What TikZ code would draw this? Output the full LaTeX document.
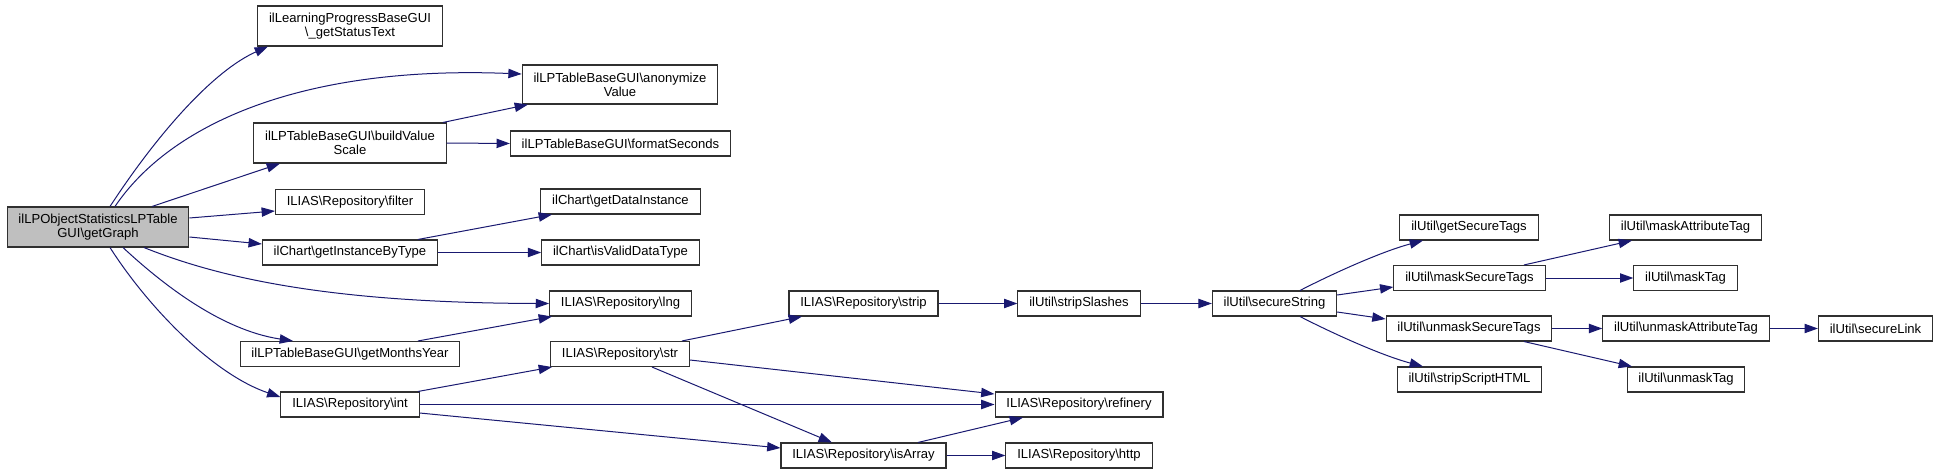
\documentclass[tikz,border=0pt]{standalone}
\usepackage{fontspec}
\setmainfont{Liberation Sans}
\usetikzlibrary{arrows.meta}
\definecolor{edgeblue}{HTML}{191970}
\definecolor{framegray}{HTML}{303030}
\definecolor{rootgray}{HTML}{BFBFBF}

\begin{document}
\begin{tikzpicture}[x=0.75pt,y=-0.75pt,
			fn/.style={draw=framegray,line width=0.8pt,fill=white,font=\fontsize{9.8}{10.5}\selectfont,
				inner xsep=8.5pt,inner ysep=0pt,minimum height=18.75pt,align=center},
			fn2/.style={fn,minimum height=30pt},
			root/.style={fn2,fill=rootgray},
			call/.style={draw=edgeblue,line width=0.75pt,-{Triangle[length=10pt,width=7pt]}}]
			\useasboundingbox (0,0) rectangle (1939,474);
			\node[root] (gg) at (98,227) {ilLPObjectStatisticsLPTable\\GUI\textbackslash{}getGraph};
			\node[fn2] (gst) at (350,26) {ilLearningProgressBaseGUI\\\textbackslash\_getStatusText};
			\node[fn2] (bvs) at (350,143) {ilLPTableBaseGUI\textbackslash{}buildValue\\Scale};
			\node[fn] (flt) at (350,202) {ILIAS\textbackslash{}Repository\textbackslash{}filter};
			\node[fn] (gibt) at (350,252.5) {ilChart\textbackslash{}getInstanceByType};
			\node[fn] (gmy) at (350,354) {ilLPTableBaseGUI\textbackslash{}getMonthsYear};
			\node[fn] (int) at (350,404.5) {ILIAS\textbackslash{}Repository\textbackslash{}int};
			\node[fn2,minimum height=29.25pt] (av) at (620,84.5) {ilLPTableBaseGUI\textbackslash{}anonymize\\Value};
			\node[fn] (fs) at (620.5,143.5) {ilLPTableBaseGUI\textbackslash{}formatSeconds};
			\node[fn] (gdi) at (620.5,201.5) {ilChart\textbackslash{}getDataInstance};
			\node[fn] (ivdt) at (620.5,252.5) {ilChart\textbackslash{}isValidDataType};
			\node[fn] (lng) at (620.5,303.5) {ILIAS\textbackslash{}Repository\textbackslash{}lng};
			\node[fn] (str) at (620,354) {ILIAS\textbackslash{}Repository\textbackslash{}str};
			\node[fn] (strp) at (863.5,303.5) {ILIAS\textbackslash{}Repository\textbackslash{}strip};
			\node[fn] (isa) at (863.5,455.5) {ILIAS\textbackslash{}Repository\textbackslash{}isArray};
			\node[fn] (ssl) at (1079,303.5) {ilUtil\textbackslash{}stripSlashes};
			\node[fn] (ref) at (1079,404.5) {ILIAS\textbackslash{}Repository\textbackslash{}refinery};
			\node[fn] (http) at (1079,455.5) {ILIAS\textbackslash{}Repository\textbackslash{}http};
			\node[fn] (sst) at (1274.5,303.5) {ilUtil\textbackslash{}secureString};
			\node[fn] (gstg) at (1469,227.5) {ilUtil\textbackslash{}getSecureTags};
			\node[fn] (mst) at (1469.5,278) {ilUtil\textbackslash{}maskSecureTags};
			\node[fn] (umst) at (1469,328.5) {ilUtil\textbackslash{}unmaskSecureTags};
			\node[fn] (ssh) at (1469.5,379.5) {ilUtil\textbackslash{}stripScriptHTML};
			\node[fn] (mat) at (1685.5,227.5) {ilUtil\textbackslash{}maskAttributeTag};
			\node[fn] (mtg) at (1685.5,278) {ilUtil\textbackslash{}maskTag};
			\node[fn] (umat) at (1686,328.5) {ilUtil\textbackslash{}unmaskAttributeTag};
			\node[fn] (umt) at (1686,379.5) {ilUtil\textbackslash{}unmaskTag};
			\node[fn] (slk) at (1875.5,328.5) {ilUtil\textbackslash{}secureLink};

			\draw[call] (110,0 |- gg.north) .. controls (160,130) and (215,70) .. (268,0 |- gst.south);
			\draw[call] (115,0 |- gg.north) .. controls (170,125) and (300,65) .. (av.west |- 0,74);
			\draw[call] (152,0 |- gg.north) -- (280,0 |- bvs.south);
			\draw[call] (gg.east |- 0,218) -- (flt.west |- 0,211);
			\draw[call] (gg.east |- 0,237) -- (gibt.west |- 0,244);
			\draw[call] (144,0 |- gg.south) .. controls (220,278) and (330,303) .. (lng.west);
			\draw[call] (123,0 |- gg.south) .. controls (160,282) and (220,330) .. (293,0 |- gmy.north);
			\draw[call] (110,0 |- gg.south) .. controls (150,310) and (215,375) .. (int.west |- 0,397);
			\draw[call] (443,0 |- bvs.north) -- (528,0 |- av.south);
			\draw[call] (bvs.east) -- (fs.west);
			\draw[call] (418,0 |- gibt.north) -- (552,0 |- gdi.south);
			\draw[call] (gibt.east) -- (ivdt.west);
			\draw[call] (418,0 |- gmy.north) -- (552,0 |- lng.south);
			\draw[call] (418,0 |- int.north) -- (552,0 |- str.south);
			\draw[call] (int.east) -- (ref.west);
			\draw[call] (int.east |- 0,413) -- (isa.west |- 0,448);
			\draw[call] (682,0 |- str.north) -- (802,0 |- strp.south);
			\draw[call] (str.east |- 0,360) -- (ref.west |- 0,394);
			\draw[call] (652,0 |- str.south) -- (832,0 |- isa.north);
			\draw[call] (918,0 |- isa.north) -- (1023,0 |- ref.south);
			\draw[call] (isa.east) -- (http.west);
			\draw[call] (strp.east) -- (ssl.west);
			\draw[call] (ssl.east) -- (sst.west);
			\draw[call] (1300,0 |- sst.north) .. controls (1330,275) and (1380,252) .. (1423,0 |- gstg.south);
			\draw[call] (sst.east |- 0,295) -- (mst.west |- 0,287);
			\draw[call] (sst.east |- 0,312) -- (umst.west |- 0,319);
			\draw[call] (1300,0 |- sst.south) .. controls (1330,332) and (1380,355) .. (1423,0 |- ssh.north);
			\draw[call] (1524,0 |- mst.north) -- (1632,0 |- mat.south);
			\draw[call] (mst.east) -- (mtg.west);
			\draw[call] (umst.east) -- (umat.west);
			\draw[call] (1524,0 |- umst.south) -- (1632,0 |- umt.north);
			\draw[call] (umat.east) -- (slk.west);
\end{tikzpicture}
\end{document}
